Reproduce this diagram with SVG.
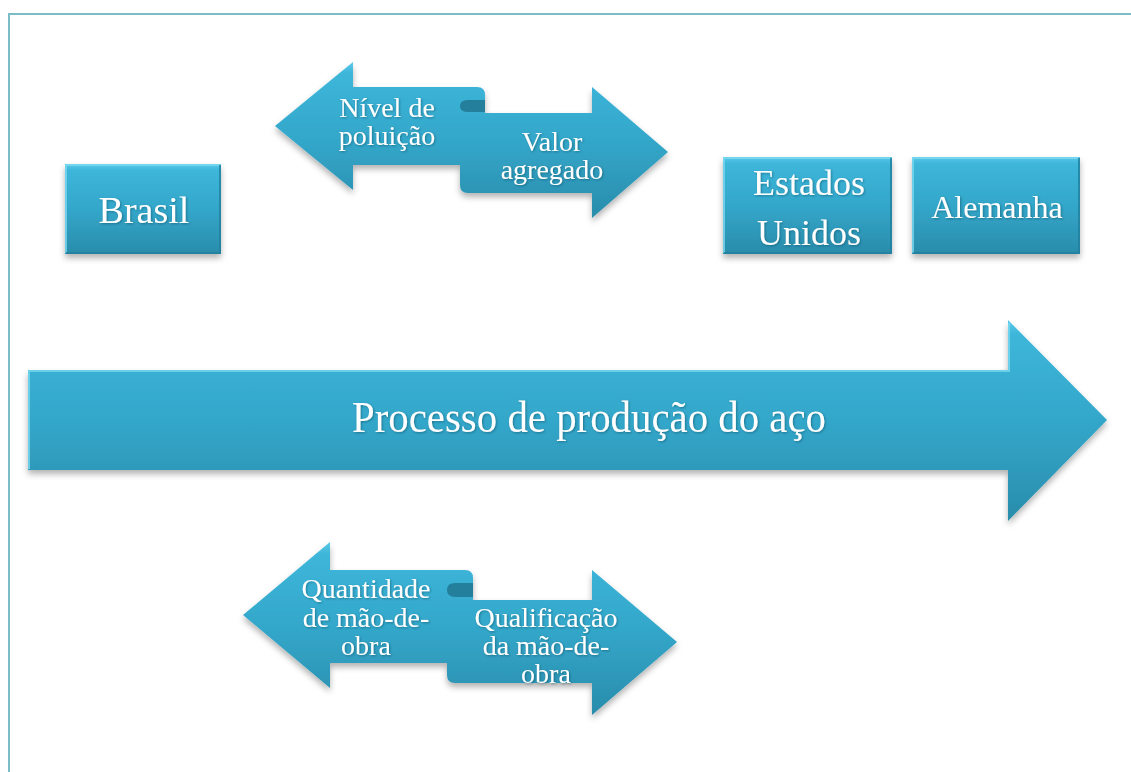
<svg xmlns="http://www.w3.org/2000/svg" width="1131" height="772" viewBox="0 0 1131 772">
<defs>
<linearGradient id="g" x1="0" y1="0" x2="0" y2="1">
<stop offset="0" stop-color="#5cc9e8"/>
<stop offset="0.07" stop-color="#3db6da"/>
<stop offset="0.5" stop-color="#33a7ca"/>
<stop offset="1" stop-color="#2a8cab"/>
</linearGradient>
<filter id="sh" x="-10%" y="-10%" width="120%" height="130%">
<feDropShadow dx="0" dy="4" stdDeviation="3" flood-color="#000" flood-opacity="0.3"/>
</filter>
<filter id="ts" x="-5%" y="-20%" width="110%" height="140%">
<feDropShadow dx="1" dy="1" stdDeviation="0.8" flood-color="#0a3a4a" flood-opacity="0.45"/>
</filter>
</defs>
<style>
.shape{fill:url(#g);filter:url(#sh);}
.edge{fill:none;stroke:#7ad8f0;stroke-width:2;opacity:0.8;}
.dedge{fill:none;stroke:#22809d;stroke-width:2;opacity:0.8;}
.fold{fill:#247f9c;}
.t{font-family:"Liberation Serif","Times New Roman",serif;fill:#ffffff;text-anchor:middle;filter:url(#ts);}
.frame{fill:none;stroke:#7bbcc6;stroke-width:2;}
</style>
<rect width="1131" height="772" fill="#ffffff"/>
<path class="frame" d="M1131,14 L9,14 L9,772"/>

<g id="brasil">
<rect class="shape" x="65" y="164" width="156" height="90"/>
<path class="edge" d="M66,253 L66,165 L220,165"/>
<path class="dedge" d="M220,165 L220,253 L66,253"/>
<text class="t" x="144" y="223" font-size="38">Brasil</text>
</g>

<g id="estados-unidos">
<rect class="shape" x="723" y="157" width="169" height="97"/>
<path class="edge" d="M724,253 L724,158 L891,158"/>
<path class="dedge" d="M891,158 L891,253 L724,253"/>
<text class="t" x="809" y="195" font-size="36">Estados</text>
<text class="t" x="809" y="245" font-size="36">Unidos</text>
</g>

<g id="alemanha">
<rect class="shape" x="912" y="157" width="168" height="97"/>
<path class="edge" d="M913,253 L913,158 L1079,158"/>
<path class="dedge" d="M1079,158 L1079,253 L913,253"/>
<text class="t" x="997" y="218" font-size="32">Alemanha</text>
</g>

<g id="processo">
<path class="shape" d="M28,370 L1008,370 L1008,320 L1107,420 L1008,521 L1008,470 L28,470 Z"/>
<path class="edge" d="M29,469 L29,371 L1009,371 L1009,323"/>
<text class="t" x="589" y="432" font-size="44" textLength="474" lengthAdjust="spacingAndGlyphs">Processo de produção do aço</text>
</g>

<g id="poluicao-valor">
<path class="shape" d="M275,126 L353,62 L353,87 L477,87 Q485,87 485,95 L485,113 L592,113 L592,87 L668,152 L592,218 L592,193 L468,193 Q460,193 460,185 L460,165 L353,165 L353,190 Z"/>
<path class="fold" d="M485,100 L468,100 Q460,100 460,106 Q460,112 468,112 L485,112 Z"/>
<text class="t" x="387" y="117" font-size="28">Nível de</text>
<text class="t" x="387" y="145" font-size="28">poluição</text>
<text class="t" x="552" y="151" font-size="28">Valor</text>
<text class="t" x="552" y="179" font-size="28">agregado</text>
</g>

<g id="mao-de-obra">
<path class="shape" d="M243,615 L330,542 L330,570 L465,570 Q473,570 473,578 L473,600 L592,600 L592,570 L677,642 L592,715 L592,683 L455,683 Q447,683 447,675 L447,663 L330,663 L330,688 Z"/>
<path class="fold" d="M473,583 L455,583 Q447,583 447,590 Q447,597 455,597 L473,597 Z"/>
<text class="t" x="366" y="598" font-size="28">Quantidade</text>
<text class="t" x="366" y="627" font-size="28">de mão-de-</text>
<text class="t" x="366" y="655" font-size="28">obra</text>
<text class="t" x="546" y="627" font-size="28">Qualificação</text>
<text class="t" x="546" y="655" font-size="28">da mão-de-</text>
<text class="t" x="546" y="683" font-size="28">obra</text>
</g>
</svg>
